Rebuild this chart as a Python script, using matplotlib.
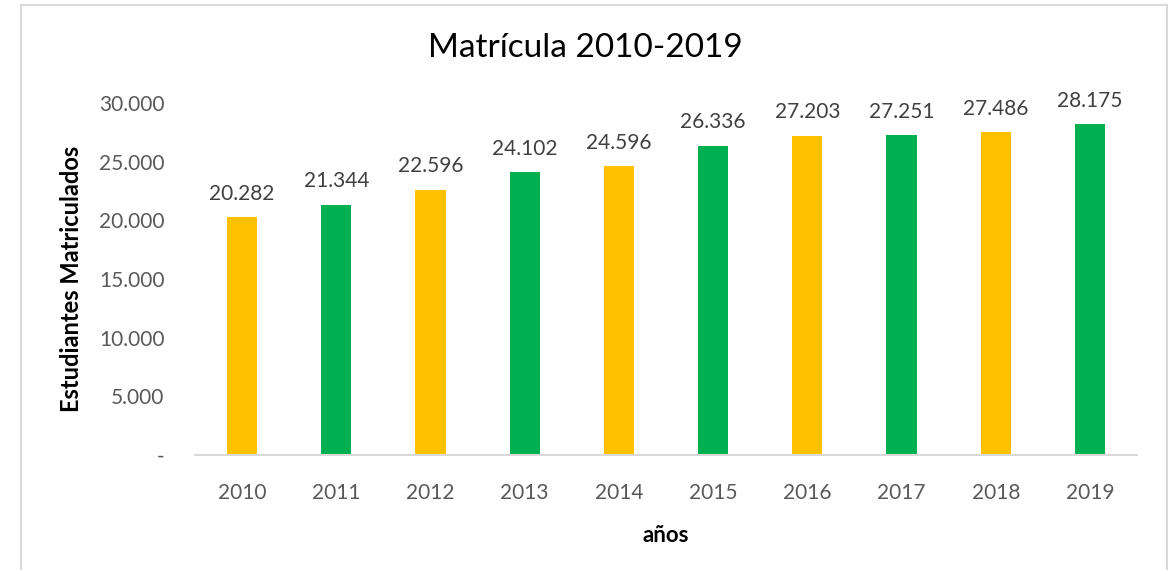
import matplotlib
matplotlib.use("Agg")
import matplotlib.pyplot as plt
from matplotlib.patches import Rectangle
from matplotlib.ticker import FuncFormatter

years = ["2010", "2011", "2012", "2013", "2014", "2015", "2016", "2017", "2018", "2019"]
students = [20282, 21344, 22596, 24102, 24596, 26336, 27203, 27251, 27486, 28175]
y_ticks = [0, 5000, 10000, 15000, 20000, 25000, 30000]

YELLOW = "#FFC000"
GREEN = "#00B050"

plt.rcParams["font.family"] = ["Lato", "DejaVu Sans"]

fig = plt.figure(figsize=(11.7, 5.7), dpi=100)
fig.patch.set_facecolor("white")

# chart frame
fig.add_artist(Rectangle((21 / 1170, -0.05), (1167 - 21) / 1170, 1.05 - 5 / 570,
                         transform=fig.transFigure, fill=False,
                         edgecolor="#D9D9D9", linewidth=1.5))

ax = fig.add_axes([195 / 1170, 1 - 455 / 570, (1137 - 195) / 1170, (455 - 103) / 570])

def fmt(v):
    if v == 0:
        return "-"
    return f"{int(v):,}".replace(",", ".")

colors = [YELLOW if i % 2 == 0 else GREEN for i in range(len(years))]
x = list(range(len(years)))
bars = ax.bar(x, students, width=0.32, color=colors, zorder=2)

for xi, v in zip(x, students):
    ax.text(xi, v + 1150, fmt(v), ha="center", va="bottom",
            fontsize=15, color="#404040")

ax.set_xlim(-0.5, len(years) - 0.5)
ax.set_ylim(0, 30000)
ax.set_yticks(y_ticks)
ax.yaxis.set_major_formatter(FuncFormatter(lambda v, p: fmt(v)))
ax.set_xticks(x)
ax.set_xticklabels(years)
ax.tick_params(axis="both", length=0, labelsize=15, labelcolor="#595959")
ax.tick_params(axis="y", pad=22)
ax.tick_params(axis="x", pad=20)

for side in ["top", "right", "left"]:
    ax.spines[side].set_visible(False)
ax.spines["bottom"].set_color("#D9D9D9")
ax.spines["bottom"].set_linewidth(1.5)

ax.set_ylabel("Estudiantes Matriculados", fontsize=17, fontweight="bold",
              color="black")
ax.yaxis.set_label_coords(-0.119, 0.5)
ax.set_xlabel("años", fontsize=16, fontweight="bold", color="black", labelpad=16)

fig.text(0.5, 1 - 48 / 570, "Matrícula 2010-2019", ha="center", va="center",
         fontsize=24, color="black")

fig.savefig("out.png", dpi=100)
